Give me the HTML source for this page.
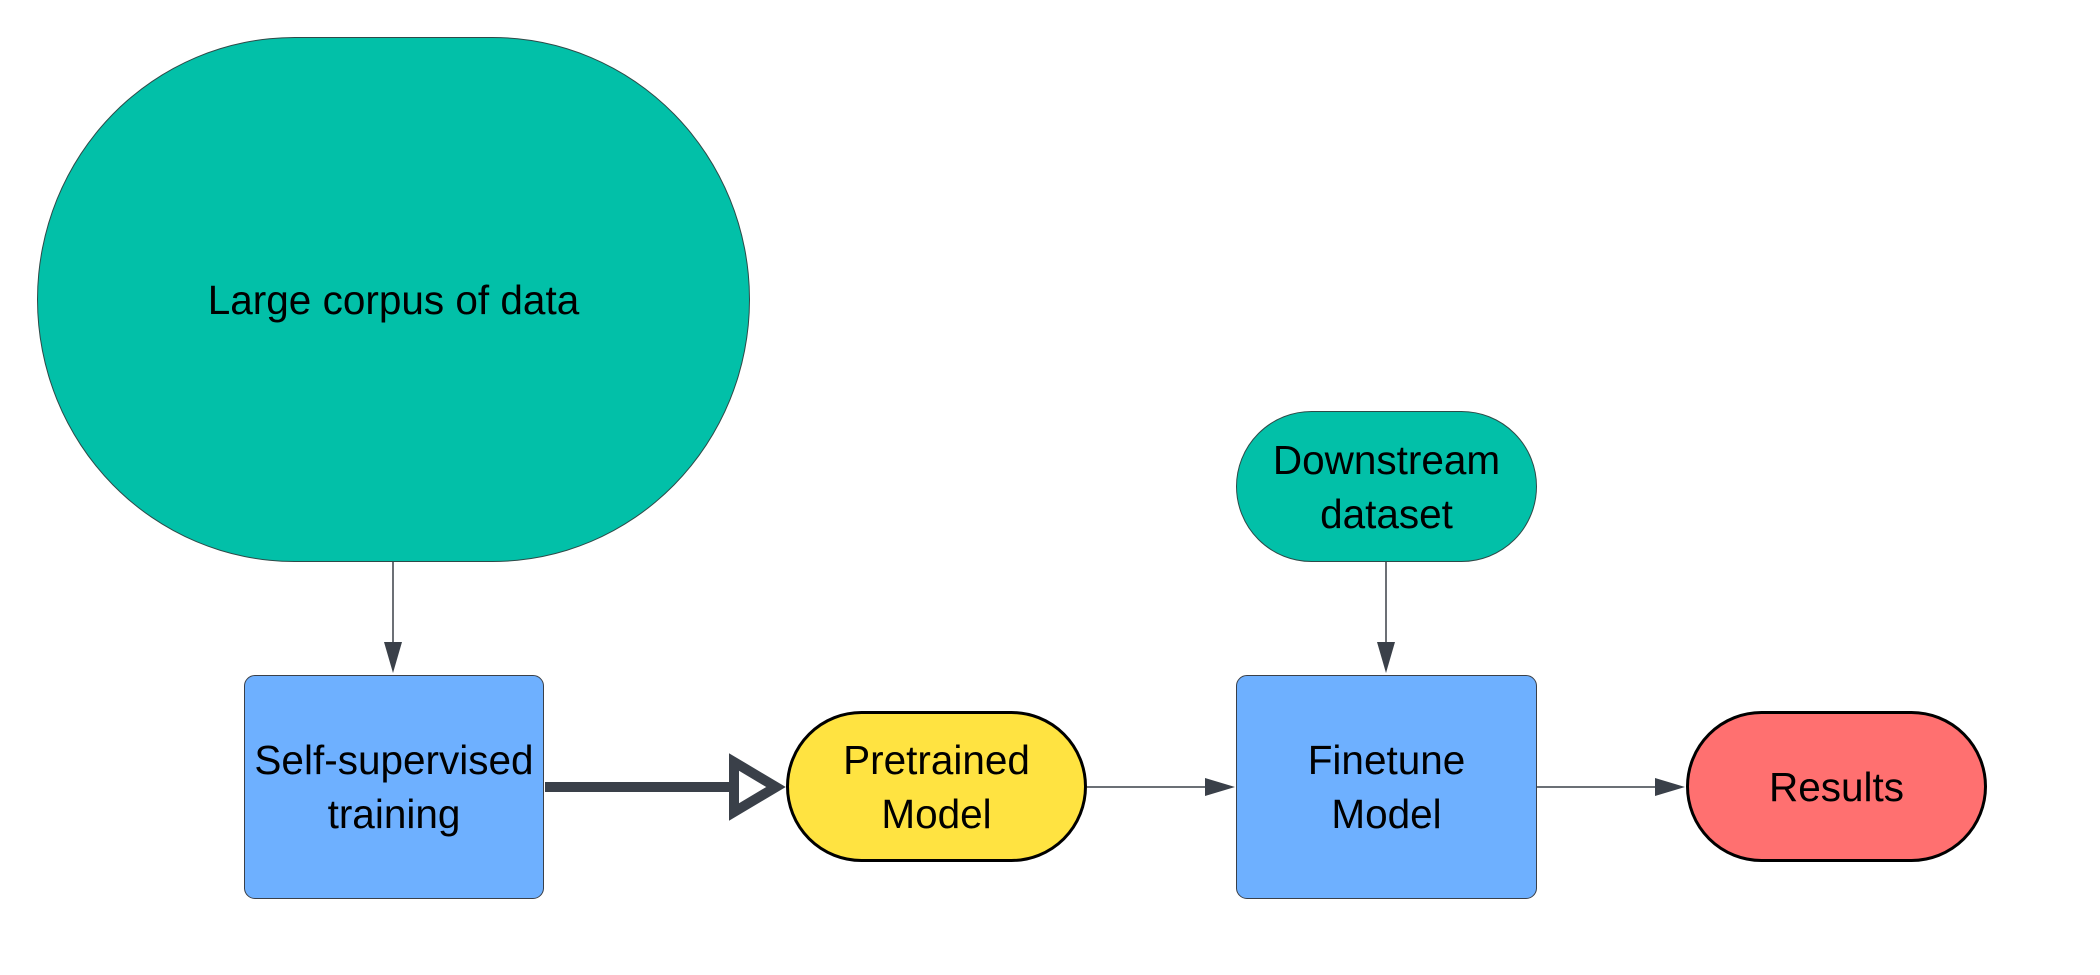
<!DOCTYPE html>
<html><head><meta charset="utf-8"><style>
body{margin:0;width:2100px;height:975px;background:#fff;position:relative;overflow:hidden;font-family:"Liberation Sans",sans-serif;}
.n{position:absolute;box-sizing:border-box;display:flex;align-items:center;justify-content:center;text-align:center;font-size:40.5px;line-height:54px;color:#000;}
svg{position:absolute;left:0;top:0}
</style></head><body>
<div class="n" style="left:37px;top:37px;width:713px;height:525px;background:#02C0A8;border:1.5px solid #2e4a48;border-radius:265px/270px;">Large corpus of data</div>
<div class="n" style="left:244px;top:675px;width:300px;height:224px;background:#6EB0FF;border:1.5px solid #3a4049;border-radius:11px;">Self-supervised<br>training</div>
<div class="n" style="left:786px;top:711px;width:301px;height:151px;background:#FFE341;border:3px solid #000;border-radius:76px;">Pretrained<br>Model</div>
<div class="n" style="left:1236px;top:411px;width:301px;height:151px;background:#02C0A8;border:1.5px solid #2e4a48;border-radius:76px;">Downstream<br>dataset</div>
<div class="n" style="left:1236px;top:675px;width:301px;height:224px;background:#6EB0FF;border:1.5px solid #3a4049;border-radius:11px;">Finetune<br>Model</div>
<div class="n" style="left:1686px;top:711px;width:301px;height:151px;background:#FF7070;border:3px solid #000;border-radius:76px;">Results</div>
<svg width="2100" height="975">
<g stroke="#3a4049" fill="#3a4049">
<line x1="393" y1="562" x2="393" y2="650" stroke-width="1.5"/>
<polygon points="384,642 402,642 393,673" stroke="none"/>
<line x1="1386" y1="562" x2="1386" y2="650" stroke-width="1.5"/>
<polygon points="1377,642 1395,642 1386,673" stroke="none"/>
<line x1="1087" y1="787" x2="1215" y2="787" stroke-width="1.5"/>
<polygon points="1205,778 1205,796 1235,787" stroke="none"/>
<line x1="1537" y1="787" x2="1665" y2="787" stroke-width="1.5"/>
<polygon points="1655,778 1655,796 1685,787" stroke="none"/>
<line x1="545" y1="787" x2="735" y2="787" stroke-width="10"/>
<polygon points="734,762 734,812 776,787" fill="#fff" stroke-width="10" stroke-linejoin="miter"/>
</g>
</svg>
</body></html>
